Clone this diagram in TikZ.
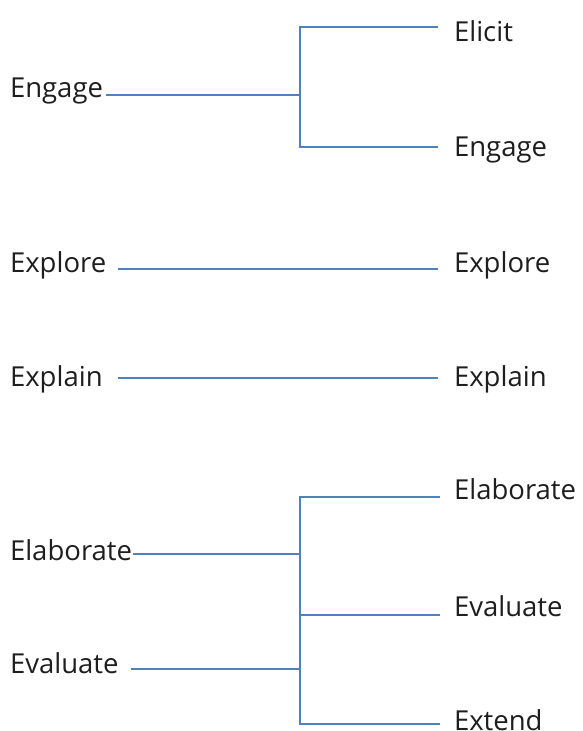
\documentclass[tikz,border=0pt]{standalone}
\usepackage{fontspec}
\setmainfont{Open Sans}
\definecolor{lineblue}{HTML}{4F81BD}
\definecolor{txt}{HTML}{1E1E1E}
\begin{document}
\begin{tikzpicture}[x=1pt,y=-1pt,
  lbl/.style={anchor=base west,inner sep=0pt,outer sep=0pt,text=txt,font=\fontsize{27.5}{31}\selectfont},
  conn/.style={draw=lineblue,line width=1.5pt}]
\useasboundingbox (0,0) rectangle (582,731);
% left labels
\node[lbl] (lengage) at (10,97) {Engage};
\node[lbl] (lexplore) at (10,272) {Explore};
\node[lbl] (lexplain) at (10,386) {Explain};
\node[lbl] (lelab) at (10,560) {Elaborate};
\node[lbl] (leval) at (10,673) {Evaluate};
% right labels
\node[lbl] (relicit) at (454,41) {Elicit};
\node[lbl] (rengage) at (454,156) {Engage};
\node[lbl] (rexplore) at (454,272) {Explore};
\node[lbl] (rexplain) at (454,386) {Explain};
\node[lbl] (relab) at (454,499) {Elaborate};
\node[lbl] (reval) at (454,616) {Evaluate};
\node[lbl] (rextend) at (454,730) {Extend};
% line ends
\coordinate (a0) at (106,95);
\coordinate (a1) at (300,95);
\coordinate (at) at (300,27);
\coordinate (ab) at (300,147);
\coordinate (ae1) at (438,27);
\coordinate (ae2) at (438,147);
\coordinate (x0) at (118,269);
\coordinate (x1) at (438,269);
\coordinate (p0) at (118,378);
\coordinate (p1) at (438,378);
\coordinate (b0) at (133,554);
\coordinate (b1) at (300,554);
\coordinate (c0) at (131,669);
\coordinate (c1) at (300,669);
\coordinate (bt) at (300,497);
\coordinate (bm) at (300,615);
\coordinate (bb) at (300,724);
\coordinate (be1) at (440,497);
\coordinate (be2) at (440,615);
\coordinate (be3) at (440,724);
% connectors
\draw[conn] (a0) -- (a1);
\draw[conn] (ae1) -- (at) -- (ab) -- (ae2);
\draw[conn] (x0) -- (x1);
\draw[conn] (p0) -- (p1);
\draw[conn] (b0) -- (b1);
\draw[conn] (c0) -- (c1);
\draw[conn] (be1) -- (bt) -- (bb) -- (be3);
\draw[conn] (bm) -- (be2);
\end{tikzpicture}
\end{document}
